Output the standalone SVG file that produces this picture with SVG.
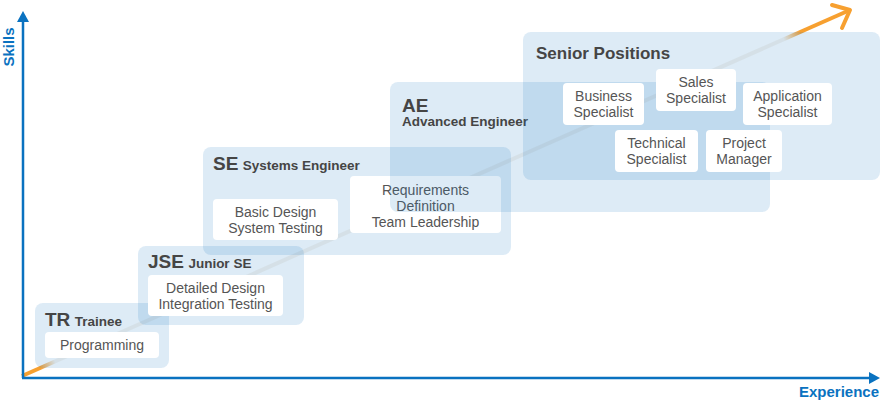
<svg xmlns="http://www.w3.org/2000/svg" width="880" height="415" viewBox="0 0 880 415">
<style>
.zone{fill:#1a7cc4;fill-opacity:0.15}
.card{fill:#ffffff}
.lbl{font-family:"Liberation Sans",Arial,sans-serif;font-size:14px;fill:#555555;text-anchor:middle}
.ttl{font-family:"Liberation Sans",Arial,sans-serif;font-weight:bold;fill:#454545}
.big{font-size:19px}
.sub{font-size:13.5px}
.axis{stroke:#0a72c0;stroke-width:2.5;fill:none}
.axtxt{font-family:"Liberation Sans",Arial,sans-serif;font-weight:bold;font-size:15px;fill:#0a72c0}
</style>
<defs>
<linearGradient id="grow" gradientUnits="userSpaceOnUse" x1="22" y1="376" x2="850" y2="10">
<stop offset="0" stop-color="#f7a030"/>
<stop offset="0.022" stop-color="#f7a030"/>
<stop offset="0.04" stop-color="#f6f3ee"/>
<stop offset="0.92" stop-color="#f6f3ee"/>
<stop offset="0.94" stop-color="#f7a030"/>
<stop offset="1" stop-color="#f7a030"/>
</linearGradient>
</defs>
<g id="connectors">
<path d="M22 376 L850 10" stroke="url(#grow)" stroke-width="4" fill="none"/>
<path d="M832 5 L850 10 L842 28" stroke="#f7a030" stroke-width="4" fill="none" stroke-linecap="round" stroke-linejoin="round"/>
</g>
<g id="axes">
<path class="axis" d="M23 378 V20"/>
<path d="M23 11 L29 22 L17 22 Z" fill="#0a72c0"/>
<path class="axis" d="M22 378 H870"/>
<path d="M880 378 L869 372 L869 384 Z" fill="#0a72c0"/>
<text class="axtxt" text-anchor="middle" transform="translate(14,47) rotate(-90)">Skills</text>
<text class="axtxt" x="879" y="397" text-anchor="end">Experience</text>
</g>
<g id="tr">
<rect class="zone" x="35" y="303" width="134" height="65" rx="8"/>
<text class="ttl" x="45" y="326"><tspan class="big">TR</tspan> <tspan class="sub">Trainee</tspan></text>
<rect class="card" x="45" y="332" width="114" height="26" rx="4"/>
<text class="lbl" x="102" y="350">Programming</text>
</g>
<g id="jse">
<rect class="zone" x="138" y="246" width="166" height="79" rx="8"/>
<text class="ttl" x="148" y="268"><tspan class="big">JSE</tspan> <tspan class="sub">Junior SE</tspan></text>
<rect class="card" x="148" y="275" width="135" height="41" rx="4"/>
<text class="lbl" x="215.5" y="293">Detailed Design</text>
<text class="lbl" x="215.5" y="309">Integration Testing</text>
</g>
<g id="se">
<rect class="zone" x="203" y="147" width="308" height="108" rx="8"/>
<text class="ttl" x="213" y="170"><tspan class="big">SE</tspan> <tspan class="sub">Systems Engineer</tspan></text>
<rect class="card" x="213" y="199" width="125" height="41" rx="4"/>
<text class="lbl" x="275.5" y="217">Basic Design</text>
<text class="lbl" x="275.5" y="233">System Testing</text>
<rect class="card" x="350" y="176" width="151" height="57" rx="4"/>
<text class="lbl" x="425.5" y="195">Requirements</text>
<text class="lbl" x="425.5" y="211">Definition</text>
<text class="lbl" x="425.5" y="227">Team Leadership</text>
</g>
<g id="ae">
<rect class="zone" x="390" y="82" width="380" height="130" rx="8"/>
<text class="ttl big" x="402" y="112">AE</text>
<text class="ttl sub" x="402" y="126">Advanced Engineer</text>
</g>
<g id="senior">
<rect class="zone" x="523" y="32" width="357" height="148" rx="8"/>
<text class="ttl" x="536" y="59" font-size="17px">Senior Positions</text>
<rect class="card" x="563" y="83" width="81" height="42" rx="4"/>
<text class="lbl" x="603.5" y="101">Business</text>
<text class="lbl" x="603.5" y="117">Specialist</text>
<rect class="card" x="656" y="69" width="80" height="42" rx="4"/>
<text class="lbl" x="696" y="87">Sales</text>
<text class="lbl" x="696" y="103">Specialist</text>
<rect class="card" x="743" y="83" width="89" height="42" rx="4"/>
<text class="lbl" x="787.5" y="101">Application</text>
<text class="lbl" x="787.5" y="117">Specialist</text>
<rect class="card" x="615" y="130" width="83" height="42" rx="4"/>
<text class="lbl" x="656.5" y="148">Technical</text>
<text class="lbl" x="656.5" y="164">Specialist</text>
<rect class="card" x="706" y="130" width="76" height="42" rx="4"/>
<text class="lbl" x="744" y="148">Project</text>
<text class="lbl" x="744" y="164">Manager</text>
</g>
</svg>
